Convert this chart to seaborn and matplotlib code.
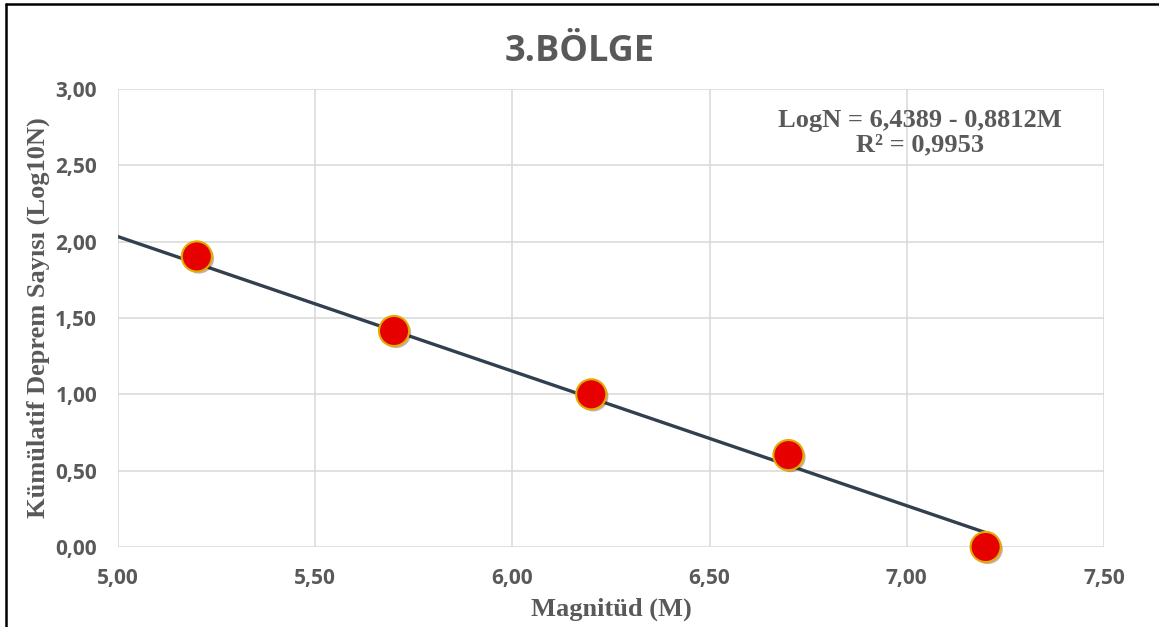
import numpy as np
import pandas as pd
import seaborn as sns
import matplotlib.pyplot as plt
from matplotlib import patheffects as pe
from matplotlib.lines import Line2D

# data
magnitude = [5.2, 5.7, 6.2, 6.7, 7.2]
log_n = [1.903, 1.415, 1.000, 0.602, 0.000]

# trend line as printed on the chart
intercept = 6.4389
slope = -0.8812
trend_x = [5.0, 7.2]

xticks = [5.0, 5.5, 6.0, 6.5, 7.0, 7.5]
yticks = [0.0, 0.5, 1.0, 1.5, 2.0, 2.5, 3.0]

df = pd.DataFrame({'M': magnitude, 'logN': log_n})
trend = pd.DataFrame({'M': trend_x})
trend['logN'] = intercept + slope * trend['M']

sns.set_style('white')
gray = '#595959'

fig = plt.figure(figsize=(11.59, 6.27), dpi=100)
ax = fig.add_axes([0.1018, 0.1276, 0.8507, 0.7305])

sns.lineplot(data=trend, x='M', y='logN', ax=ax, color='#323f4f', lw=2.4, zorder=3)
sns.scatterplot(data=df, x='M', y='logN', ax=ax, s=470, color='#e60000',
                edgecolor='#e0ac00', linewidth=1.5, zorder=4, clip_on=False,
                path_effects=[pe.SimplePatchShadow(offset=(1.5, -1.5), alpha=0.3),
                              pe.Normal()])

ax.set_xlim(5.0, 7.5)
ax.set_ylim(0.0, 3.0)
ax.set_xticks(xticks)
ax.set_yticks(yticks)
ax.set_xticklabels([f'{v:.2f}'.replace('.', ',') for v in xticks])
ax.set_yticklabels([f'{v:.2f}'.replace('.', ',') for v in yticks])
ax.grid(True, color='#d9d9d9', lw=1.1)
ax.set_axisbelow(True)
for s in ax.spines.values():
    s.set_visible(False)
ax.tick_params(length=0, labelsize=15, labelcolor=gray)
ax.tick_params(axis='x', pad=15)
ax.tick_params(axis='y', pad=15)
for lab in ax.get_xticklabels() + ax.get_yticklabels():
    lab.set_fontfamily('Open Sans')
    lab.set_fontweight('bold')

ax.set_xlabel('Magnitüd (M)', fontfamily='Liberation Serif', fontweight='bold',
              fontsize=19, color=gray, labelpad=6)
ax.set_ylabel('Kümülatif Deprem Sayısı (Log10N)', fontfamily='Liberation Serif',
              fontweight='bold', fontsize=19, color=gray, labelpad=4)

ax.text(0.813, 0.904, 'LogN = 6,4389 - 0,8812M\nR² = 0,9953', transform=ax.transAxes,
        ha='center', va='center', fontfamily='Liberation Serif', fontweight='bold',
        fontsize=19, color=gray, linespacing=1.05)

fig.text(0.5, 0.917, '3.BÖLGE', ha='center', va='center', fontfamily='Open Sans',
         fontweight='bold', fontsize=26, color=gray)

# outer frame (only left and top edges show)
fig.add_artist(Line2D([0.005, 0.005], [0.0, 0.993], transform=fig.transFigure,
                      color='black', lw=1.8))
fig.add_artist(Line2D([0.005, 1.0], [0.993, 0.993], transform=fig.transFigure,
                      color='black', lw=1.8))

fig.savefig('out.png', dpi=100)
